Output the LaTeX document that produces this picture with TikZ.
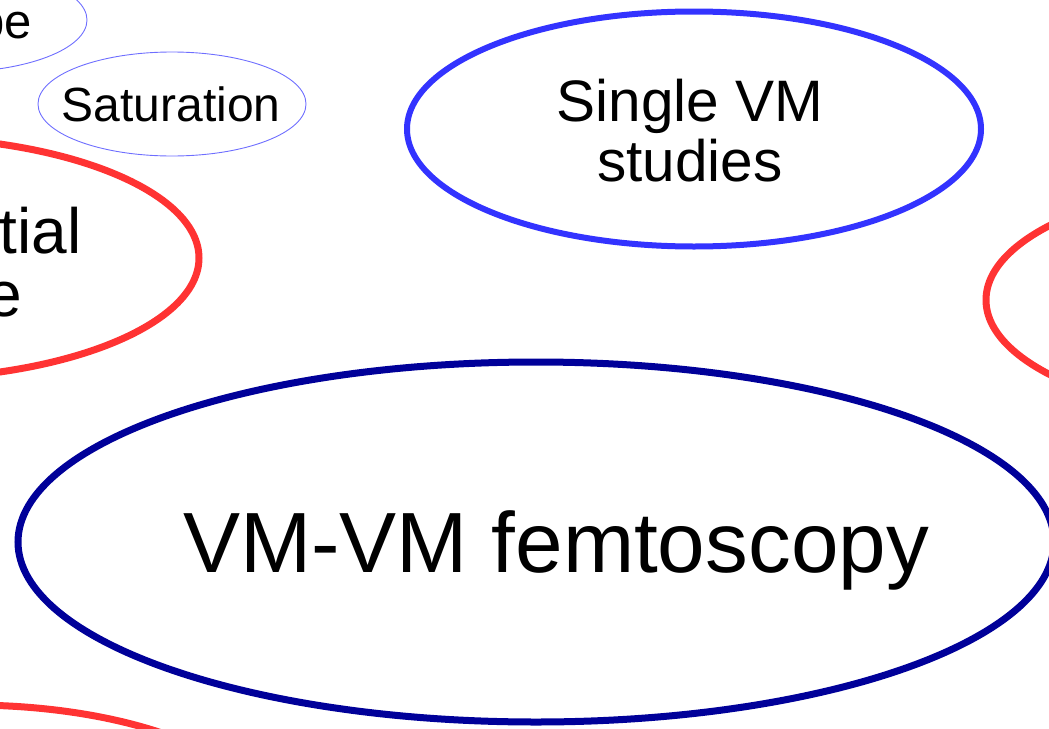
\documentclass[tikz,border=0pt]{standalone}
\usepackage{fontspec}
\setmainfont{Liberation Sans}
\usetikzlibrary{shapes.geometric}
\definecolor{navycol}{RGB}{0,0,153}
\definecolor{bluecol}{RGB}{51,51,255}
\definecolor{redcol}{RGB}{255,51,51}
\definecolor{thincol}{RGB}{110,110,255}

\begin{document}
\begin{tikzpicture}[
  x=1pt, y=-1pt,
  bubble/.style={ellipse, inner sep=0pt},
  thinbubble/.style={bubble, draw=thincol, line width=0.9pt, minimum width=268pt, minimum height=104pt},
  bluebubble/.style={bubble, draw=bluecol, line width=6pt},
  redbubble/.style={bubble, draw=redcol, line width=7pt, minimum width=600pt, minimum height=242pt},
  navybubble/.style={bubble, draw=navycol, line width=7pt},
  bubtext/.style={align=center, inner sep=0pt}
]
\useasboundingbox (0,0) rectangle (1049,728);

% ---------------- small topics (top left) ----------------
\node[thinbubble] (shape) at (-47,20) {};
\node[bubtext, anchor=base east, font=\fontsize{49}{49}\selectfont] (shapetxt) at (32,38) {pe};

\node[thinbubble] (sat) at (172,104) {};
\node[bubtext, anchor=base, font=\fontsize{48}{48}\selectfont] (sattxt) at (171,121) {Saturation};

% ---------------- single VM ----------------
\node[bluebubble, minimum width=574pt, minimum height=235pt] (single) at (694,129) {};
\node[bubtext, font=\fontsize{58.5}{60}\selectfont] (singletxt) at (690,131) {Single VM\\studies};

% ---------------- red topics ----------------
\node[redbubble] (left) at (-101,258) {};
\node[bubtext, anchor=base east, font=\fontsize{64}{64}\selectfont] (lefttxta) at (82,253) {tial};
\node[bubtext, anchor=base east, font=\fontsize{64}{64}\selectfont] (lefttxtb) at (22,316) {e};

\node[redbubble] (right) at (1286,300) {};
\node[redbubble] (bottom) at (-30,826) {};

% ---------------- femtoscopy ----------------
\node[navybubble, minimum width=1036pt, minimum height=360pt] (femto) at (536,542) {};
\node[bubtext, anchor=base, font=\fontsize{85.5}{85.5}\selectfont] (femtotxt) at (556,572) {VM-VM femtoscopy};

\end{tikzpicture}
\end{document}
